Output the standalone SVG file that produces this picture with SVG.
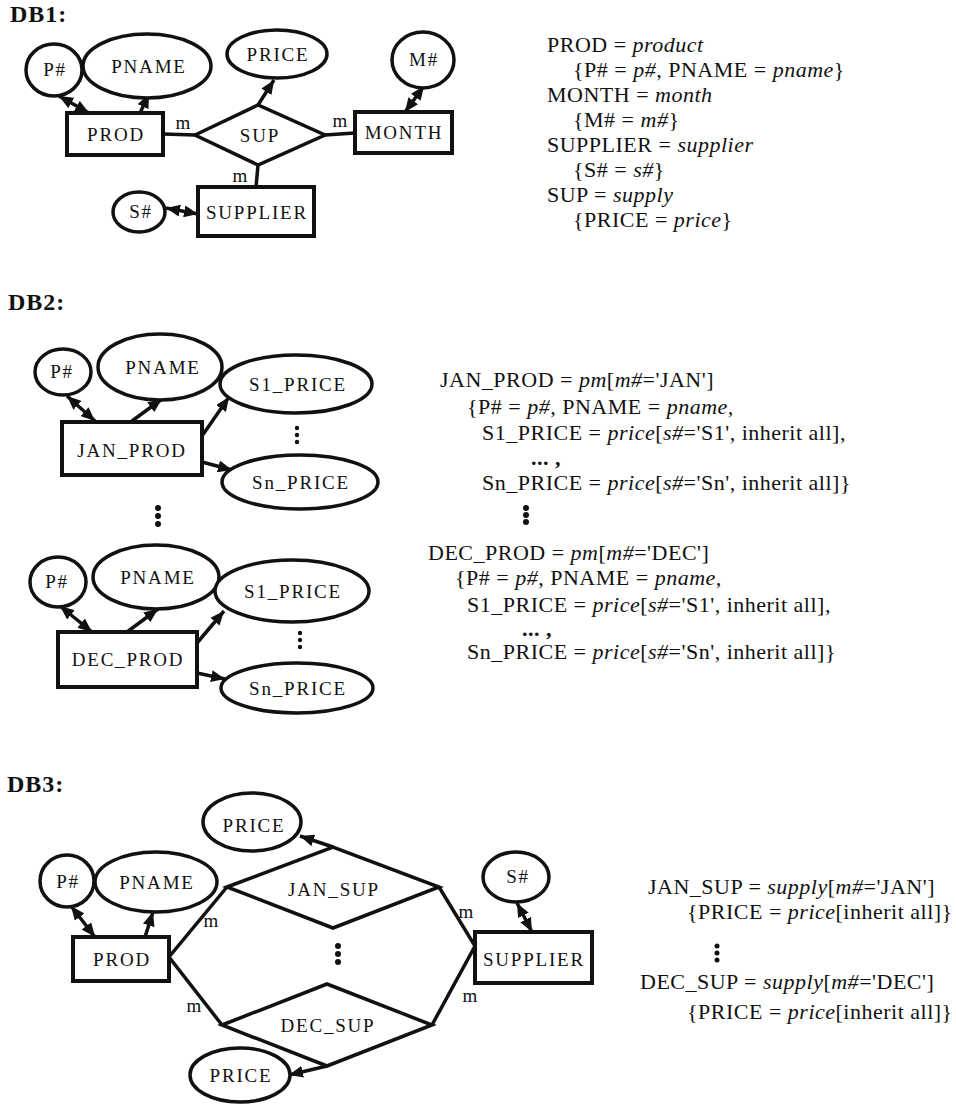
<svg xmlns="http://www.w3.org/2000/svg" width="956" height="1104" viewBox="0 0 956 1104">
  <defs>
    <marker id="head" viewBox="0 0 14 12" refX="14" refY="6" markerWidth="14" markerHeight="12" markerUnits="userSpaceOnUse" orient="auto-start-reverse">
      <path d="M0,0 L14,6 L0,12 z" fill="#111"/>
    </marker>
    <style>
      text { font-family: "Liberation Serif", "Times New Roman", serif; fill: #111; }
      .hd { font-size: 24px; font-weight: bold; letter-spacing: 1px; }
      .lb { font-size: 19px; letter-spacing: 1.8px; text-anchor: middle; }
      .m { font-size: 19px; text-anchor: middle; }
      .tx { font-size: 22px; letter-spacing: 0.5px; }
      .i { font-style: italic; }
      .att { fill: #fff; stroke: #111; stroke-width: 3.5; }
      .ent { fill: #fff; stroke: #111; stroke-width: 4; }
      .rel { fill: #fff; stroke: #111; stroke-width: 3.5; stroke-linejoin: miter; }
      .ln { stroke: #111; stroke-width: 3.5; fill: none; }
      .ar { stroke: #111; stroke-width: 3.5; fill: none; marker-end: url(#head); }
      .ar2 { stroke: #111; stroke-width: 3.5; fill: none; marker-start: url(#head); marker-end: url(#head); }
      .dot { fill: #111; }
    </style>
  </defs>
  <rect width="956" height="1104" fill="#fff"/>

  <!-- ===== DB1 ===== -->
  <text class="hd" x="10" y="22">DB1:</text>

  <g id="db1-connectors">
    <line class="ln" x1="163" y1="134" x2="195" y2="135"/>
    <line class="ln" x1="325" y1="135" x2="355" y2="133"/>
    <line class="ln" x1="258" y1="165" x2="256" y2="187"/>
    <line class="ar2" x1="59" y1="96" x2="89" y2="113"/>
    <line class="ar" x1="140" y1="113" x2="149" y2="94"/>
    <line class="ar" x1="258" y1="105" x2="274" y2="80"/>
    <line class="ar2" x1="405" y1="112" x2="424" y2="86"/>
    <line class="ar2" x1="166" y1="208" x2="198" y2="214"/>
    <text class="m" x="183" y="129">m</text>
    <text class="m" x="340" y="127">m</text>
    <text class="m" x="240" y="182">m</text>
  </g>

  <g id="db1-pnum"><ellipse class="att" cx="54" cy="70" rx="28" ry="26"/><text class="lb" x="55" y="76">P#</text></g>
  <g id="db1-pname"><ellipse class="att" cx="147" cy="66" rx="64" ry="32"/><text class="lb" x="149" y="73">PNAME</text></g>
  <g id="db1-price"><ellipse class="att" cx="277" cy="54" rx="50" ry="24"/><text class="lb" x="278" y="61">PRICE</text></g>
  <g id="db1-mnum"><ellipse class="att" cx="423" cy="60" rx="31" ry="28"/><text class="lb" x="424" y="66">M#</text></g>
  <g id="db1-prod"><rect class="ent" x="67" y="113" width="96" height="42"/><text class="lb" x="116" y="141">PROD</text></g>
  <g id="db1-sup"><polygon class="rel" points="195,135 258,105 325,135 258,165"/><text class="lb" x="260" y="142">SUP</text></g>
  <g id="db1-month"><rect class="ent" x="355" y="112" width="97" height="41"/><text class="lb" x="404" y="139">MONTH</text></g>
  <g id="db1-supplier"><rect class="ent" x="198" y="187" width="116" height="49"/><text class="lb" x="257" y="219">SUPPLIER</text></g>
  <g id="db1-snum"><ellipse class="att" cx="139" cy="212" rx="26" ry="20"/><text class="lb" x="141" y="218">S#</text></g>

  <g id="db1-schema" class="tx">
    <text x="547" y="52">PROD = <tspan class="i">product</tspan></text>
    <text x="573" y="77">{P# = <tspan class="i">p#</tspan>, PNAME = <tspan class="i">pname</tspan>}</text>
    <text x="547" y="102">MONTH = <tspan class="i">month</tspan></text>
    <text x="573" y="127">{M# = <tspan class="i">m#</tspan>}</text>
    <text x="547" y="152">SUPPLIER = <tspan class="i">supplier</tspan></text>
    <text x="573" y="177">{S# = <tspan class="i">s#</tspan>}</text>
    <text x="547" y="202">SUP = <tspan class="i">supply</tspan></text>
    <text x="573" y="227">{PRICE = <tspan class="i">price</tspan>}</text>
  </g>

  <!-- ===== DB2 ===== -->
  <text class="hd" x="8" y="310">DB2:</text>

  <g id="db2-connectors">
    <line class="ar2" x1="67" y1="396" x2="95" y2="421"/>
    <line class="ar" x1="132" y1="421" x2="162" y2="399"/>
    <line class="ar" x1="202" y1="436" x2="229" y2="397"/>
    <line class="ar" x1="202" y1="462" x2="232" y2="470"/>
    <line class="ar2" x1="60" y1="606" x2="92" y2="632"/>
    <line class="ar" x1="127" y1="632" x2="158" y2="609"/>
    <line class="ar" x1="197" y1="643" x2="224" y2="611"/>
    <line class="ar" x1="197" y1="673" x2="225" y2="679"/>
  </g>

  <g id="db2-jan-pnum"><ellipse class="att" cx="63" cy="372" rx="28" ry="23"/><text class="lb" x="62" y="378">P#</text></g>
  <g id="db2-jan-pname"><ellipse class="att" cx="160" cy="367" rx="62" ry="33"/><text class="lb" x="163" y="374">PNAME</text></g>
  <g id="db2-jan-s1"><ellipse class="att" cx="296" cy="384" rx="76" ry="29"/><text class="lb" x="298" y="391">S1_PRICE</text></g>
  <g id="db2-jan-sn"><ellipse class="att" cx="300" cy="482" rx="78" ry="27"/><text class="lb" x="301" y="489">Sn_PRICE</text></g>
  <g id="db2-jan-prod"><rect class="ent" x="62" y="422" width="140" height="53"/><text class="lb" x="132" y="457">JAN_PROD</text></g>
  <g id="db2-jan-dots" class="dot"><circle cx="297" cy="428" r="2.2"/><circle cx="297" cy="435" r="2.2"/><circle cx="297" cy="442" r="2.2"/></g>

  <g id="db2-month-dots" class="dot"><circle cx="158" cy="508" r="3"/><circle cx="158" cy="516" r="3"/><circle cx="158" cy="524" r="3"/></g>

  <g id="db2-dec-pnum"><ellipse class="att" cx="58" cy="582" rx="28" ry="25"/><text class="lb" x="57" y="588">P#</text></g>
  <g id="db2-dec-pname"><ellipse class="att" cx="156" cy="577" rx="63" ry="32"/><text class="lb" x="158" y="584">PNAME</text></g>
  <g id="db2-dec-s1"><ellipse class="att" cx="292" cy="591" rx="77" ry="31"/><text class="lb" x="293" y="598">S1_PRICE</text></g>
  <g id="db2-dec-sn"><ellipse class="att" cx="297" cy="688" rx="76" ry="25"/><text class="lb" x="298" y="695">Sn_PRICE</text></g>
  <g id="db2-dec-prod"><rect class="ent" x="58" y="632" width="139" height="55"/><text class="lb" x="128" y="666">DEC_PROD</text></g>
  <g id="db2-dec-dots" class="dot"><circle cx="300" cy="633" r="2.2"/><circle cx="300" cy="640" r="2.2"/><circle cx="300" cy="647" r="2.2"/></g>

  <g id="db2-schema" class="tx">
    <text x="440" y="387">JAN_PROD = <tspan class="i">pm</tspan>[<tspan class="i">m#</tspan>='JAN']</text>
    <text x="467" y="414">{P# = <tspan class="i">p#</tspan>, PNAME = <tspan class="i">pname,</tspan></text>
    <text x="482" y="440">S1_PRICE = <tspan class="i">price</tspan>[<tspan class="i">s#</tspan>='S1', inherit all],</text>
    <text x="531" y="465" font-weight="bold">... ,</text>
    <text x="482" y="490">Sn_PRICE = <tspan class="i">price</tspan>[<tspan class="i">s#</tspan>='Sn', inherit all]}</text>
    <g class="dot"><circle cx="526" cy="508" r="3"/><circle cx="526" cy="515" r="3"/><circle cx="526" cy="522" r="3"/></g>
    <text x="428" y="560">DEC_PROD = <tspan class="i">pm</tspan>[<tspan class="i">m#</tspan>='DEC']</text>
    <text x="455" y="585">{P# = <tspan class="i">p#</tspan>, PNAME = <tspan class="i">pname,</tspan></text>
    <text x="467" y="612">S1_PRICE = <tspan class="i">price</tspan>[<tspan class="i">s#</tspan>='S1', inherit all],</text>
    <text x="522" y="636" font-weight="bold">... ,</text>
    <text x="467" y="659">Sn_PRICE = <tspan class="i">price</tspan>[<tspan class="i">s#</tspan>='Sn', inherit all]}</text>
  </g>

  <!-- ===== DB3 ===== -->
  <text class="hd" x="7" y="792">DB3:</text>

  <g id="db3-connectors">
    <polyline class="ln" points="227,887 169,957 222,1025"/>
    <polyline class="ln" points="439,887 475,946 432,1025"/>
    <line class="ar2" x1="71" y1="906" x2="95" y2="937"/>
    <line class="ar" x1="145" y1="937" x2="153" y2="912"/>
    <line class="ar" x1="333" y1="847" x2="300" y2="836"/>
    <line class="ar" x1="327" y1="1066" x2="289" y2="1075"/>
    <line class="ar2" x1="517" y1="903" x2="532" y2="932"/>
    <text class="m" x="211" y="927">m</text>
    <text class="m" x="194" y="1012">m</text>
    <text class="m" x="466" y="918">m</text>
    <text class="m" x="470" y="1002">m</text>
  </g>

  <g id="db3-price-top"><ellipse class="att" cx="252" cy="822" rx="49" ry="29"/><text class="lb" x="254" y="832">PRICE</text></g>
  <g id="db3-pnum"><ellipse class="att" cx="67" cy="881" rx="27" ry="26"/><text class="lb" x="68" y="888">P#</text></g>
  <g id="db3-pname"><ellipse class="att" cx="156" cy="882" rx="61" ry="30"/><text class="lb" x="157" y="889">PNAME</text></g>
  <g id="db3-prod"><rect class="ent" x="73" y="937" width="96" height="44"/><text class="lb" x="122" y="966">PROD</text></g>
  <g id="db3-jan-sup"><polygon class="rel" points="227,887 333,847 439,887 333,928"/><text class="lb" x="334" y="896">JAN_SUP</text></g>
  <g id="db3-dots" class="dot"><circle cx="338" cy="946" r="3"/><circle cx="338" cy="954" r="3"/><circle cx="338" cy="962" r="3"/></g>
  <g id="db3-dec-sup"><polygon class="rel" points="222,1025 327,984 432,1025 327,1066"/><text class="lb" x="328" y="1032">DEC_SUP</text></g>
  <g id="db3-supplier"><rect class="ent" x="475" y="932" width="117" height="51"/><text class="lb" x="534" y="966">SUPPLIER</text></g>
  <g id="db3-snum"><ellipse class="att" cx="516" cy="877" rx="33" ry="25"/><text class="lb" x="518" y="883">S#</text></g>
  <g id="db3-price-bottom"><ellipse class="att" cx="240" cy="1075" rx="50" ry="27"/><text class="lb" x="241" y="1082">PRICE</text></g>

  <g id="db3-schema" class="tx">
    <text x="648" y="894">JAN_SUP = <tspan class="i">supply</tspan>[<tspan class="i">m#</tspan>='JAN']</text>
    <text x="687" y="919">{PRICE = <tspan class="i">price</tspan>[inherit all]}</text>
    <g class="dot"><circle cx="717" cy="946" r="2.5"/><circle cx="717" cy="953" r="2.5"/><circle cx="717" cy="960" r="2.5"/></g>
    <text x="640" y="989">DEC_SUP = <tspan class="i">supply</tspan>[<tspan class="i">m#</tspan>='DEC']</text>
    <text x="687" y="1019">{PRICE = <tspan class="i">price</tspan>[inherit all]}</text>
  </g>
</svg>
